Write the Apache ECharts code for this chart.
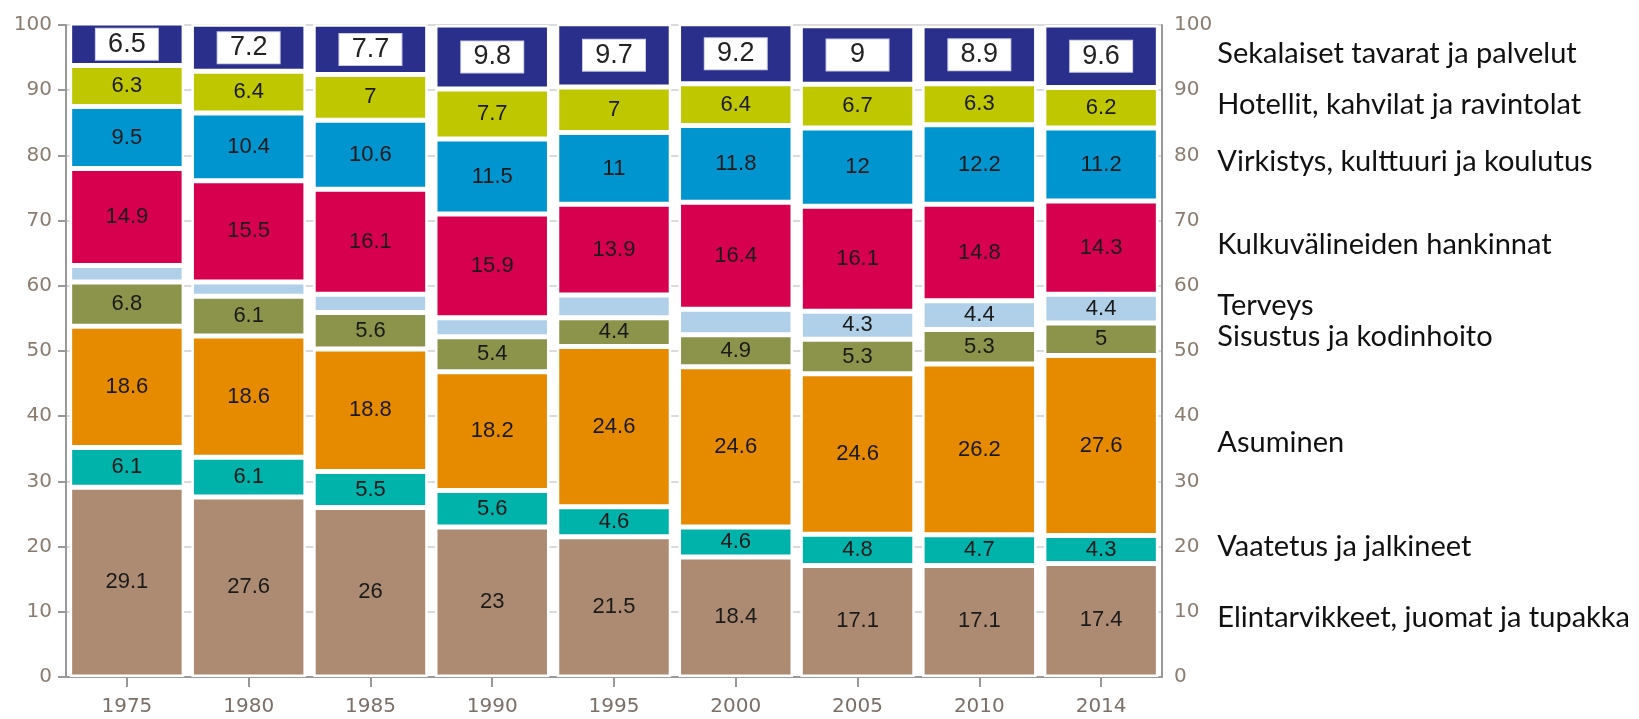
<!DOCTYPE html>
<html>
<head>
<meta charset="utf-8">
<script src="https://cdn.jsdelivr.net/npm/echarts@6/dist/echarts.min.js"></script>
<style>
  html, body { margin: 0; padding: 0; background: #fff; }
  #chart { width: 1639px; height: 719px; }
</style>
</head>
<body>
<div id="chart"></div>
<script>
/* data */
const vuodet = ['1975', '1980', '1985', '1990', '1995', '2000', '2005', '2010', '2014'];

const elintarvikkeet = [29.1, 27.6, 26, 23, 21.5, 18.4, 17.1, 17.1, 17.4];
const vaatetus = [6.1, 6.1, 5.5, 5.6, 4.6, 4.6, 4.8, 4.7, 4.3];
const asuminen = [18.6, 18.6, 18.8, 18.2, 24.6, 24.6, 24.6, 26.2, 27.6];
const sisustus = [6.8, 6.1, 5.6, 5.4, 4.4, 4.9, 5.3, 5.3, 5];
const terveys = [2.5, 2.2, 2.8, 2.9, 3.5, 3.9, 4.3, 4.4, 4.4];
const kulkuvalineet = [14.9, 15.5, 16.1, 15.9, 13.9, 16.4, 16.1, 14.8, 14.3];
const virkistys = [9.5, 10.4, 10.6, 11.5, 11, 11.8, 12, 12.2, 11.2];
const hotellit = [6.3, 6.4, 7, 7.7, 7, 6.4, 6.7, 6.3, 6.2];
const sekalaiset = [6.5, 7.2, 7.7, 9.8, 9.7, 9.2, 9, 8.9, 9.6];

const nimet = [
    'Elintarvikkeet, juomat ja tupakka',
    'Vaatetus ja jalkineet',
    'Asuminen',
    'Sisustus ja kodinhoito',
    'Terveys',
    'Kulkuvälineiden hankinnat',
    'Virkistys, kulttuuri ja koulutus',
    'Hotellit, kahvilat ja ravintolat',
    'Sekalaiset tavarat ja palvelut'
];
const sarjat = [elintarvikkeet, vaatetus, asuminen, sisustus, terveys,
    kulkuvalineet, virkistys, hotellit, sekalaiset];
const varit = ['#ac8b72', '#00b3aa', '#e68a00', '#8c944b', '#afd0e8',
    '#d6004f', '#0095cf', '#bfc700', '#2b2f8c'];

var myChart = echarts.init(document.getElementById('chart'));

const labelTavallinen = {
    show: true,
    position: 'inside',
    color: '#1a1a1a',
    fontFamily: 'Liberation Sans',
    fontSize: 22,
    formatter: function (p) { return p.value >= 4 ? String(p.value) : ''; }
};

const labelLaatikko = {
    show: true,
    position: 'inside',
    color: '#222',
    fontFamily: 'Liberation Sans',
    fontSize: 27,
    backgroundColor: '#fff',
    borderColor: '#c9cbe0',
    borderWidth: 1,
    width: 62,
    height: 31,
    lineHeight: 31,
    align: 'center',
    verticalAlign: 'middle',
    padding: 0
};

let series = [];
sarjat.forEach(function (arvot, i) {
    series.push({
        name: nimet[i],
        type: 'bar',
        stack: 'osuus',
        barCategoryGap: '6%',
        barGap: '-100%',
        clip: false,
        itemStyle: { color: varit[i], borderColor: '#fff', borderWidth: 2.5 },
        label: i === sarjat.length - 1 ? labelLaatikko : labelTavallinen,
        data: arvot
    });
});

// names at the right, placed next to the last bar (transparent copy of the stack)
const viimeinen = vuodet.length - 1;
sarjat.forEach(function (arvot, i) {
    series.push({
        name: nimet[i] + ' nimi',
        type: 'bar',
        stack: 'nimet',
        barCategoryGap: '6%',
        barGap: '-100%',
        silent: true,
        clip: false,
        itemStyle: { color: 'rgba(0,0,0,0)' },
        label: {
            show: true,
            position: 'right',
            distance: 59,
            offset: [0, -3],
            color: '#111',
            fontFamily: 'Lato',
            fontSize: 29,
            formatter: function (p) { return p.dataIndex === viimeinen ? nimet[i] : ''; }
        },
        data: arvot
    });
});

const akseliTeksti = {
    color: '#8a7d70',
    fontFamily: 'DejaVu Sans',
    fontSize: 20
};

var option = {
    animation: false,
    backgroundColor: '#fff',
    grid: {
        left: 66,
        right: 477,
        top: 25,
        bottom: 42,
        containLabel: false,
        outerBoundsMode: 'none'
    },
    xAxis: {
        type: 'category',
        data: vuodet,
        boundaryGap: true,
        axisLine: { show: true, lineStyle: { color: '#999', width: 2 } },
        axisTick: { show: true, alignWithLabel: true, length: 10, lineStyle: { color: '#999', width: 2 } },
        axisLabel: Object.assign({ margin: 20 }, akseliTeksti, { color: '#7a7068' }),
        splitLine: { show: false }
    },
    yAxis: [
        {
            type: 'value',
            position: 'left',
            min: 0,
            max: 100,
            interval: 10,
            axisLine: { show: true, lineStyle: { color: '#999', width: 2 } },
            axisTick: { show: true, length: 8, lineStyle: { color: '#999', width: 2 } },
            axisLabel: Object.assign({ margin: 14 }, akseliTeksti),
            splitLine: { show: true, lineStyle: { color: '#cfcfcf', width: 1.5 } }
        },
        {
            type: 'value',
            position: 'right',
            min: 0,
            max: 100,
            interval: 10,
            axisLine: { show: true, lineStyle: { color: '#999', width: 2 } },
            axisTick: { show: false },
            axisLabel: Object.assign({ margin: 12 }, akseliTeksti),
            splitLine: { show: false }
        }
    ],
    series: series
};

myChart.setOption(option);
</script>
</body>
</html>
